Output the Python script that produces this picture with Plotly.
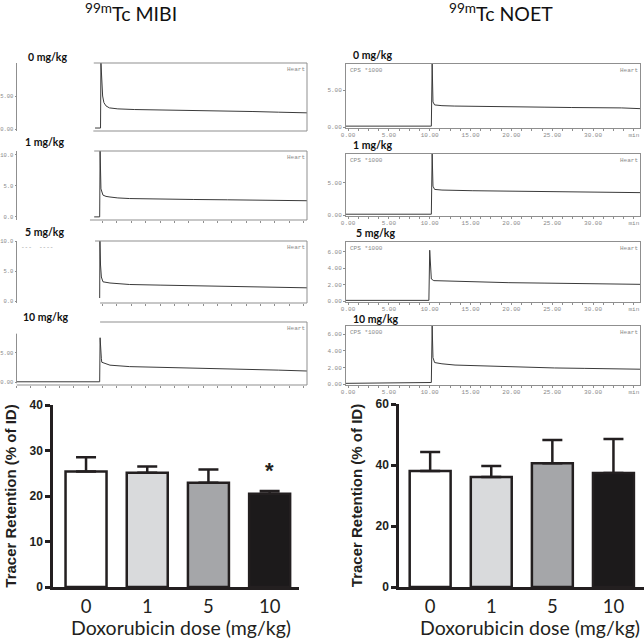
import plotly.graph_objects as go

W, H = 644, 640

# ---------------- data ----------------
# 99mTc MIBI time-activity curves (Heart), time in min, counts (CPS*1000)
mibi_0_t = [9.3, 9.95, 10.0, 10.1, 10.2, 10.35, 10.6, 11.0, 12.0, 14.0, 17.0, 20.0, 24.0, 28.0, 31.0, 34.4]
mibi_0_v = [0.15, 0.15, 10.0, 7.5, 5.0, 4.0, 3.5, 3.2, 3.05, 2.95, 2.9, 2.85, 2.75, 2.65, 2.55, 2.45]
mibi_1_t = [9.2, 9.85, 9.9, 9.95, 10.0, 10.24, 10.6, 11.07, 12.0, 13.4, 17.0, 21.0, 25.0, 29.0, 32.0, 34.4]
mibi_1_v = [0.0, 0.0, 10.6, 6.5, 4.5, 3.5, 3.3, 3.2, 3.05, 2.95, 2.85, 2.8, 2.75, 2.7, 2.65, 2.6]
mibi_5_t = [9.85, 9.88, 9.95, 10.05, 10.24, 11.07, 13.4, 17.0, 21.0, 25.0, 29.0, 32.0, 34.4]
mibi_5_v = [0.5, 10.0, 6.0, 4.0, 3.2, 3.0, 2.75, 2.65, 2.55, 2.5, 2.4, 2.3, 2.2]
mibi_10_t = [0.0, 9.85, 9.9, 9.95, 10.05, 10.1, 11.07, 13.4, 17.0, 21.7, 27.6, 31.0, 34.4]
mibi_10_v = [0.05, 0.05, 7.6, 5.5, 4.0, 3.4, 2.9, 2.65, 2.55, 2.4, 2.2, 2.05, 1.9]

# 99mTc NOET time-activity curves (Heart)
noet_0_t = [-0.25, 10.2, 10.3, 10.4, 10.6, 11.5, 13.0, 15.2, 18.0, 21.3, 24.0, 27.4, 30.0, 33.5, 35.75]
noet_0_v = [0.15, 0.15, 8.5, 3.4, 3.0, 2.9, 2.85, 2.8, 2.75, 2.7, 2.7, 2.65, 2.65, 2.6, 2.5]
noet_1_t = [-0.25, 10.2, 10.3, 10.4, 10.6, 11.5, 15.2, 21.3, 27.4, 33.5, 35.75]
noet_1_v = [0.15, 0.15, 9.5, 4.5, 4.0, 3.9, 3.8, 3.7, 3.6, 3.55, 3.5]
noet_5_t = [-0.25, 9.9, 10.0, 10.1, 10.2, 10.5, 12.0, 15.2, 19.7, 24.0, 27.4, 30.0, 33.5, 35.75]
noet_5_v = [0.1, 0.1, 6.2, 4.0, 2.7, 2.5, 2.45, 2.35, 2.25, 2.2, 2.15, 2.1, 2.05, 2.05]
noet_10_t = [-0.25, 5.0, 9.0, 10.2, 10.3, 10.4, 10.6, 11.5, 13.1, 16.0, 19.7, 22.0, 25.3, 29.0, 32.0, 35.75]
noet_10_v = [0.1, 0.12, 0.15, 0.2, 7.0, 3.2, 2.6, 2.45, 2.3, 2.2, 2.1, 2.05, 1.95, 1.9, 1.85, 1.8]

# Tracer retention bar charts
doses = ["0", "1", "5", "10"]
mibi_ret = [25.4, 25.1, 22.9, 20.5]
mibi_sd = [3.1, 1.4, 2.9, 0.6]
noet_ret = [38.0, 36.1, 40.6, 37.4]
noet_sd = [6.3, 3.6, 7.6, 11.1]
bar_colors = ["#ffffff", "#d9dadc", "#a5a6a9", "#1c1a1b"]
panel_labels = ["0 mg/kg", "1 mg/kg", "5 mg/kg", "10 mg/kg"]
noet_xtick_vals = [0, 5, 10, 15, 20, 25, 30, 35]
noet_xtick_text = ["0.00", "5.00", "10.00", "15.00", "20.00", "25.00", "30.00", "min"]


def px(p):
    return p / W


def py(p):
    return 1 - p / H


def sfx(n):
    return "" if n == 1 else str(n)


fig = go.Figure()
layout = dict(
    width=W, height=H, margin=dict(l=0, r=0, t=0, b=0, pad=0), autosize=False,
    paper_bgcolor="white", plot_bgcolor="white", showlegend=False,
)
shapes = []
annotations = []

MONO = dict(family="Liberation Mono, DejaVu Sans Mono, monospace", size=6, color="#8a8a8a")
MONO_S = dict(family="Liberation Mono, DejaVu Sans Mono, monospace", size=5.5, color="#8a8a8a")
BOX = "#8f8f8f"
CURVE = "#3a3a3a"

# ---------------- MIBI trace panels ----------------
mibi_curves = [(mibi_0_t, mibi_0_v), (mibi_1_t, mibi_1_v), (mibi_5_t, mibi_5_v), (mibi_10_t, mibi_10_v)]
mibi_dom = [(63, 131), (151, 220), (241, 303), (322, 385)]
mibi_yr = [(-0.3, 10.0), (-0.5, 10.6), (-0.33, 10.0), (-0.5, 10.3)]
mibi_ytv = [[0, 5], [0, 5, 10], [0, 5, 10], [0, 5]]
mibi_yfmt = [".2f", ".1f", ".1f", ".2f"]
mibi_top_start = [9.15, 9.2, 9.3, 9.9]
mibi_bot_start = [9.1, 8.7, 9.9, 0.0]
mibi_xticks = [[], [t * 1.7 for t in range(6, 21)], [t * 1.7 for t in range(6, 21)], [t * 1.7 for t in range(0, 21)]]
mibi_label_pos = [(47, 57), (45, 142), (45, 232), (46, 317)]

for i in range(4):
    n = i + 1
    s_ = sfx(n)
    t, v = mibi_curves[i]
    fig.add_trace(go.Scatter(x=t, y=v, mode="lines", line=dict(color=CURVE, width=1),
                             xaxis=f"x{s_}", yaxis=f"y{s_}", hoverinfo="skip"))
    top, bot = mibi_dom[i]
    layout[f"xaxis{s_}"] = dict(
        domain=[px(16.5), px(307)], range=[0, 34.4], anchor=f"y{s_}", automargin=False,
        showline=False, showgrid=False, zeroline=False, showticklabels=False,
        ticks="outside" if mibi_xticks[i] else "", tickvals=mibi_xticks[i], ticklen=2,
        tickcolor=BOX, tickwidth=1,
    )
    layout[f"yaxis{s_}"] = dict(
        domain=[py(bot), py(top)], range=list(mibi_yr[i]), anchor=f"x{s_}", automargin=False,
        showline=(i < 3), linecolor=BOX, linewidth=1, showgrid=False, zeroline=False,
        ticks="outside", ticklen=1, tickcolor=BOX, tickvals=mibi_ytv[i],
        tickformat=mibi_yfmt[i], tickfont=MONO_S,
    )
    # box frame (the part visible in the original recording)
    shapes.append(dict(type="line", xref=f"x{s_}", yref=f"y{s_} domain", x0=mibi_top_start[i], x1=34.4,
                       y0=1, y1=1, line=dict(color=BOX, width=1)))
    shapes.append(dict(type="line", xref=f"x{s_} domain", yref=f"y{s_} domain", x0=1, x1=1,
                       y0=0, y1=1, line=dict(color=BOX, width=1)))
    shapes.append(dict(type="line", xref=f"x{s_}", yref=f"y{s_} domain", x0=mibi_bot_start[i], x1=34.4,
                       y0=0, y1=0, line=dict(color=BOX, width=1)))
    annotations.append(dict(text="Heart", xref=f"x{s_} domain", yref=f"y{s_} domain", x=1.0, y=0.98,
                            xanchor="right", yanchor="top", showarrow=False, font=MONO))
    lx, ly = mibi_label_pos[i]
    annotations.append(dict(text=panel_labels[i], xref="paper", yref="paper", x=px(lx), y=py(ly),
                            xanchor="center", yanchor="middle", showarrow=False,
                            font=dict(family="Lato", size=10.5, color="#111", weight="bold")))

# left axis line of the 10 mg/kg MIBI panel is shorter than its frame
shapes.append(dict(type="line", xref="x4 domain", yref="y4", x0=0, x1=0, y0=-0.2, y1=8.3,
                   line=dict(color=BOX, width=1)))
annotations.append(dict(text="---  ----", xref="x3 domain", yref="y3 domain", x=0.01, y=0.99,
                        xanchor="left", yanchor="top", showarrow=False, font=MONO))

# ---------------- NOET trace panels ----------------
noet_curves = [(noet_0_t, noet_0_v), (noet_1_t, noet_1_v), (noet_5_t, noet_5_v), (noet_10_t, noet_10_v)]
noet_dom = [(64, 128), (154, 215.5), (242, 302), (326, 385)]
noet_yr = [(-0.1, 8.5), (-0.05, 9.5), (-0.1, 7.2), (-0.1, 7.0)]
noet_ytv = [[0, 5], [0, 5], [0, 2, 4, 6], [0, 2, 4, 6]]
noet_label_pos = [(373, 55), (373, 145), (375, 233), (376, 319)]

for i in range(4):
    n = i + 5
    t, v = noet_curves[i]
    fig.add_trace(go.Scatter(x=t, y=v, mode="lines", line=dict(color=CURVE, width=1),
                             xaxis=f"x{n}", yaxis=f"y{n}", hoverinfo="skip"))
    top, bot = noet_dom[i]
    layout[f"xaxis{n}"] = dict(
        domain=[px(346), px(640)], range=[-0.25, 35.75], anchor=f"y{n}", automargin=False,
        showline=True, mirror=True, linecolor=BOX, linewidth=1, showgrid=False, zeroline=False,
        ticks="outside", ticklen=1, tickcolor=BOX, tickvals=noet_xtick_vals, ticktext=noet_xtick_text,
        tickfont=MONO, minor=dict(ticks="outside", ticklen=2, tickcolor=BOX, dtick=1.25, showgrid=False),
    )
    layout[f"yaxis{n}"] = dict(
        domain=[py(bot), py(top)], range=list(noet_yr[i]), anchor=f"x{n}", automargin=False,
        showline=True, mirror=True, linecolor=BOX, linewidth=1, showgrid=False, zeroline=False,
        ticks="outside", ticklen=2, tickcolor=BOX, tickvals=noet_ytv[i], tickformat=".2f", tickfont=MONO,
    )
    annotations.append(dict(text="CPS *1000", xref=f"x{n} domain", yref=f"y{n} domain", x=0.008, y=0.98,
                            xanchor="left", yanchor="top", showarrow=False, font=MONO))
    annotations.append(dict(text="Heart", xref=f"x{n} domain", yref=f"y{n} domain", x=1.0, y=0.98,
                            xanchor="right", yanchor="top", showarrow=False, font=MONO))
    lx, ly = noet_label_pos[i]
    annotations.append(dict(text=panel_labels[i], xref="paper", yref="paper", x=px(lx), y=py(ly),
                            xanchor="center", yanchor="middle", showarrow=False,
                            font=dict(family="Lato", size=10.5, color="#111", weight="bold")))

# ---------------- bar charts ----------------
INK = "#231f20"
bar_specs = [
    dict(n=9, vals=mibi_ret, sd=mibi_sd, xdom=(53, 299), xr=(-0.54, 3.48), ydom=(405, 587), yr=(0, 40),
         dtick=10, title_x=180.5),
    dict(n=10, vals=noet_ret, sd=noet_sd, xdom=(399, 644), xr=(-0.51, 3.5), ydom=(404, 587), yr=(0, 60),
         dtick=20, title_x=529.5),
]
for s in bar_specs:
    n = s["n"]
    fig.add_trace(go.Bar(
        x=list(range(len(doses))), y=s["vals"], width=0.67,
        marker=dict(color=bar_colors, line=dict(color=INK, width=2.5)),
        error_y=dict(type="data", symmetric=False, array=s["sd"], arrayminus=[0] * len(doses),
                     color=INK, thickness=2.5, width=10),
        xaxis=f"x{n}", yaxis=f"y{n}", hoverinfo="skip",
    ))
    layout[f"xaxis{n}"] = dict(
        domain=[px(s["xdom"][0]), px(s["xdom"][1])], range=list(s["xr"]), anchor=f"y{n}", automargin=False,
        showline=True, linecolor=INK, linewidth=2.5, showgrid=False, zeroline=False,
        ticks="outside", ticklen=1, tickcolor="rgba(0,0,0,0)",
        tickvals=list(range(len(doses))), ticktext=doses,
        tickfont=dict(family="Lato", size=18.5, color=INK),
    )
    layout[f"yaxis{n}"] = dict(
        domain=[py(s["ydom"][1]), py(s["ydom"][0])], range=list(s["yr"]), anchor=f"x{n}", automargin=False,
        showline=True, linecolor=INK, linewidth=2.5, showgrid=False, zeroline=False,
        ticks="outside", ticklen=5, tickwidth=2.5, tickcolor=INK, dtick=s["dtick"],
        tickfont=dict(family="Liberation Sans, Arial", size=12, color=INK, weight="bold"),
        title=dict(text="Tracer Retention (% of ID)", standoff=10,
                   font=dict(family="Liberation Sans, Arial", size=15, color=INK, weight="bold")),
    )
    annotations.append(dict(text="Doxorubicin dose (mg/kg)", xref="paper", yref="paper",
                            x=px(s["title_x"]), y=py(627.5), xanchor="center", yanchor="middle",
                            showarrow=False, font=dict(family="Lato", size=19.5, color=INK)))

# significance marker on the 10 mg/kg MIBI bar
annotations.append(dict(text="*", xref="x9", yref="y9", x=3, y=25.5, xanchor="center", yanchor="middle",
                        showarrow=False, font=dict(family="Liberation Sans, Arial", size=22, color=INK,
                                                   weight="bold")))

# column titles
for title, cx in [("<sup>99m</sup>Tc MIBI", 131), ("<sup>99m</sup>Tc NOET", 501)]:
    annotations.append(dict(text=title, xref="paper", yref="paper", x=px(cx), y=py(12.5),
                            xanchor="center", yanchor="middle", showarrow=False,
                            font=dict(family="Lato", size=19.5, color="#111")))

layout["shapes"] = shapes
layout["annotations"] = annotations
fig.update_layout(**layout)
fig.write_html("out.html", config={"displayModeBar": False},
               post_script="document.body.style.margin='0';")
